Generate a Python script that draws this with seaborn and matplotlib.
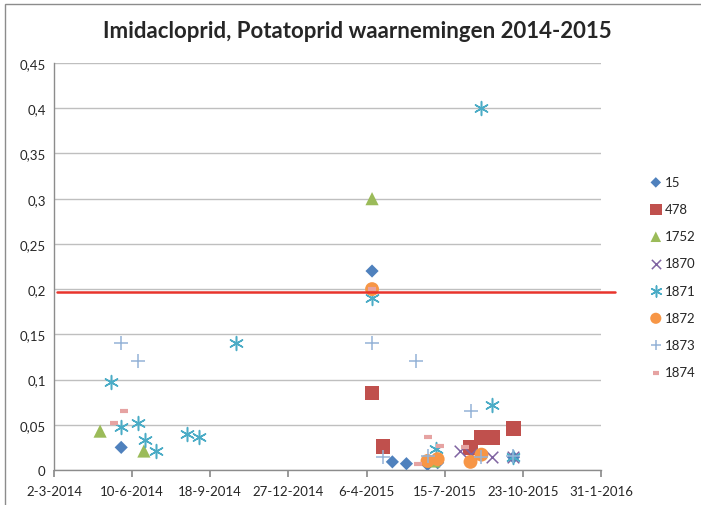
import pandas as pd
import matplotlib
matplotlib.use("Agg")
import matplotlib.pyplot as plt
import matplotlib.patches as patches
from matplotlib.ticker import FuncFormatter, MultipleLocator
import matplotlib.dates as mdates
import seaborn as sns

# observations per location (date, concentration)
dates_15 = ["2014-05-27", "2015-04-13", "2015-05-09", "2015-05-27", "2015-06-23", "2015-07-06", "2015-10-11"]
vals_15 = [0.025, 0.22, 0.009, 0.007, 0.006, 0.008, 0.014]

dates_478 = ["2015-04-13", "2015-04-27", "2015-08-17", "2015-08-31", "2015-09-14", "2015-10-11"]
vals_478 = [0.085, 0.026, 0.025, 0.036, 0.036, 0.046]

dates_1752 = ["2014-04-30", "2014-06-25", "2015-04-13", "2015-07-01"]
vals_1752 = [0.043, 0.021, 0.30, 0.010]

dates_1870 = ["2015-08-03", "2015-08-17", "2015-09-14", "2015-10-11"]
vals_1870 = [0.021, 0.018, 0.014, 0.014]

dates_1871 = ["2014-05-14", "2014-05-27", "2014-06-18", "2014-06-27", "2014-07-11", "2014-08-19",
              "2014-09-04", "2014-10-21", "2015-04-13", "2015-07-04", "2015-08-31", "2015-09-14", "2015-10-11"]
vals_1871 = [0.097, 0.047, 0.052, 0.033, 0.021, 0.040, 0.036, 0.14, 0.19, 0.023, 0.40, 0.072, 0.014]

dates_1872 = ["2015-04-13", "2015-06-23", "2015-07-06", "2015-08-17", "2015-08-31"]
vals_1872 = [0.20, 0.010, 0.012, 0.009, 0.017]

dates_1873 = ["2014-05-27", "2014-06-18", "2015-04-13", "2015-06-08", "2015-04-27", "2015-06-23",
              "2015-08-17", "2015-08-31", "2015-10-11"]
vals_1873 = [0.14, 0.12, 0.14, 0.12, 0.014, 0.016, 0.065, 0.014, 0.016]

dates_1874 = ["2014-05-18", "2014-05-31", "2015-04-13", "2015-06-24", "2015-07-09", "2015-06-11", "2015-08-10"]
vals_1874 = [0.052, 0.065, 0.20, 0.036, 0.027, 0.007, 0.025]

norm_value = 0.197
x_start, x_end = "2014-03-02", "2016-01-31"

series = [
    ("15", dates_15, vals_15, "D", "#4F81BD", 45),
    ("478", dates_478, vals_478, "s", "#C0504D", 110),
    ("1752", dates_1752, vals_1752, "^", "#9BBB59", 90),
    ("1870", dates_1870, vals_1870, "x", "#8064A2", 70),
    ("1871", dates_1871, vals_1871, (6, 2, 0), "#4BACC6", 100),
    ("1872", dates_1872, vals_1872, "o", "#F79646", 100),
    ("1873", dates_1873, vals_1873, "+", "#95B3D7", 90),
    ("1874", dates_1874, vals_1874, "_", "#E6A3A2", 35),
]
line_markers = ("x", "+", "_", (6, 2, 0))

sns.set_theme(style="white")
plt.rcParams["font.family"] = ["Lato", "DejaVu Sans"]

fig = plt.figure(figsize=(7.01, 5.06), dpi=100)
ax = fig.add_axes([54 / 701, 1 - 471 / 506, (601 - 54) / 701, (471 - 64) / 506])

for name, d, v, m, c, s in series:
    df = pd.DataFrame({"datum": pd.to_datetime(d), "waarde": v})
    lw = 3 if m == "_" else 1.1
    sns.scatterplot(data=df, x="datum", y="waarde", marker=m, color=c, s=s,
                    linewidth=lw, edgecolor=c if m in line_markers else "none",
                    label=name, ax=ax, zorder=3)

ax.axhline(norm_value, xmin=0.005, xmax=1.026, color="#E8342C", lw=1.8, clip_on=False, zorder=4)

ax.set_ylim(0, 0.45)
ax.yaxis.set_major_locator(MultipleLocator(0.05))
ax.yaxis.set_major_formatter(FuncFormatter(lambda y, p: "0" if abs(y) < 1e-9 else f"{y:.2f}".rstrip("0").replace(".", ",")))

ticks = pd.date_range(x_start, x_end, freq="100D")
ax.set_xlim(mdates.date2num(pd.Timestamp(x_start)), mdates.date2num(pd.Timestamp(x_end)))
ax.set_xticks(mdates.date2num(ticks))
ax.xaxis.set_major_formatter(FuncFormatter(lambda x, p: (lambda d: f"{d.day}-{d.month}-{d.year}")(mdates.num2date(x))))

ax.grid(axis="y", color="#BFBFBF", lw=1)
ax.set_axisbelow(True)
for sp in ["top", "right"]:
    ax.spines[sp].set_visible(False)
for sp in ["left", "bottom"]:
    ax.spines[sp].set_color("#8C8C8C")
    ax.spines[sp].set_linewidth(1)
ax.tick_params(axis="x", length=5, color="#8C8C8C", direction="out", labelsize=9.5, pad=6, bottom=True)
ax.tick_params(axis="y", length=0, labelsize=9.5, pad=6)
ax.set_xlabel("")
ax.set_ylabel("")

fig.text(357 / 701, 1 - 32 / 506, "Imidacloprid, Potatoprid waarnemingen 2014-2015",
         fontsize=16, fontweight="bold", ha="center", va="center")

handles, labels = ax.get_legend_handles_labels()
ax.legend_.remove()
fig.legend(handles, labels, loc="upper left", bbox_to_anchor=(636 / 701, 1 - 165 / 506),
           frameon=False, fontsize=9.5, labelspacing=1.15, handletextpad=0.1, handlelength=1.2,
           markerscale=0.8)

fig.add_artist(patches.Rectangle((5 / 701, -0.1), 1.2, 1.1 - 5 / 506, transform=fig.transFigure,
                                 fill=False, edgecolor="#8C8C8C", lw=1))

fig.savefig("out.png", dpi=100)
